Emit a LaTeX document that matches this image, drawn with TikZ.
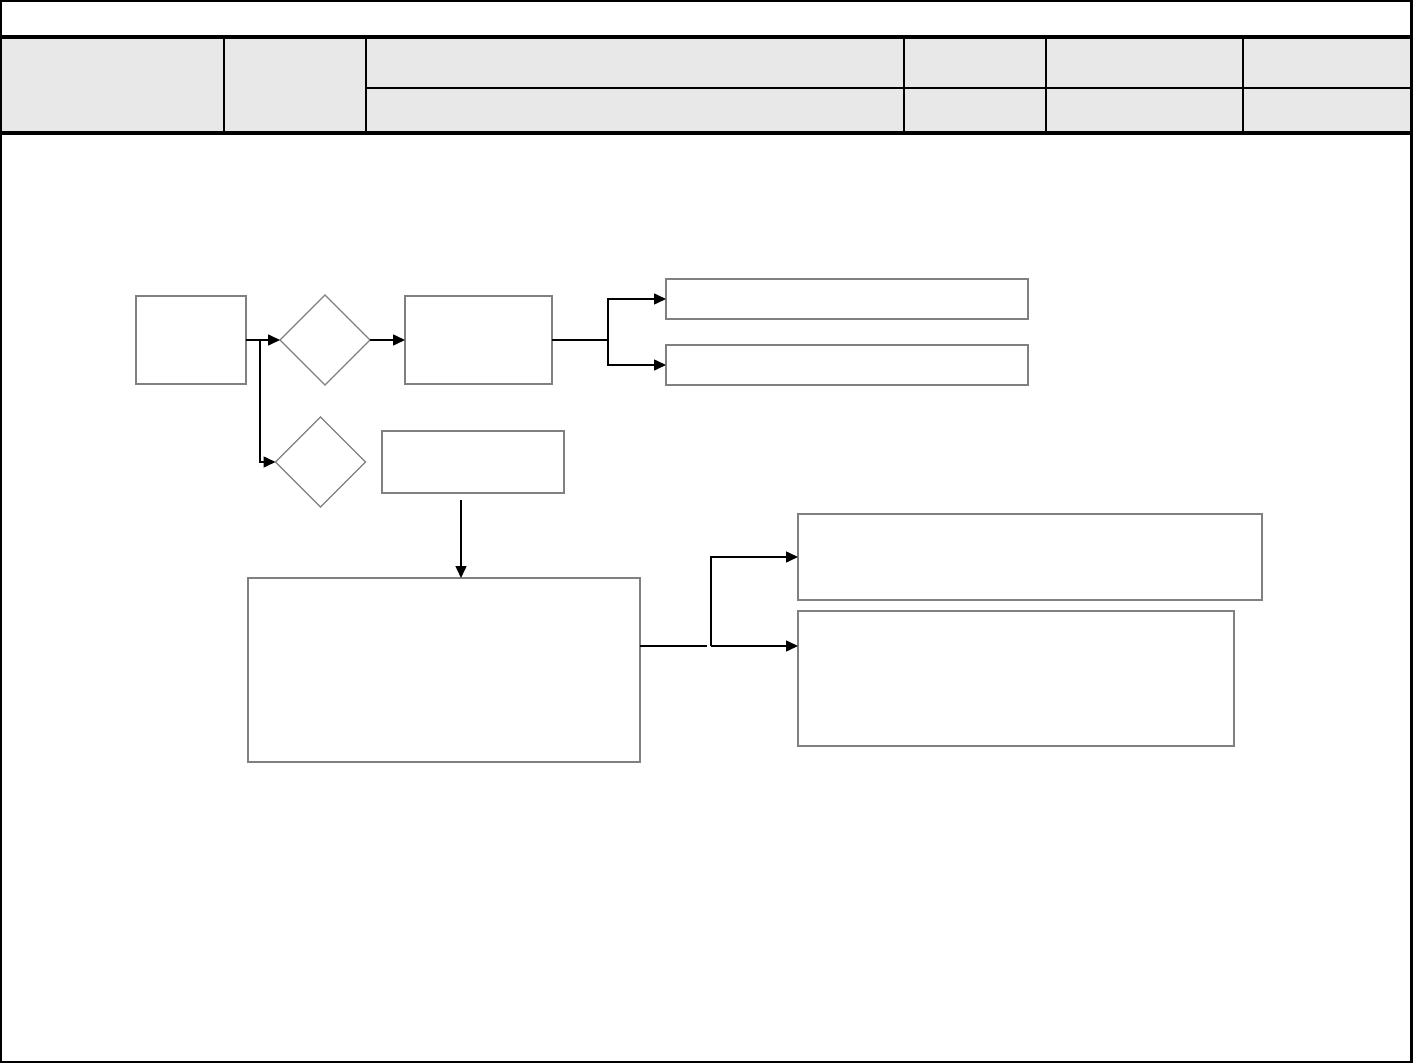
\documentclass[tikz,border=0pt]{standalone}
\usetikzlibrary{shapes.geometric,arrows.meta}
\definecolor{hdrgray}{HTML}{E8E8E8}
\definecolor{boxgray}{HTML}{808080}
\begin{document}
\begin{tikzpicture}[x=1pt,y=-1pt,
  box/.style={draw=boxgray,line width=1.6pt,rectangle,inner sep=0pt,outer sep=0pt},
  dia/.style={draw=boxgray,line width=1.4pt,diamond,inner sep=0pt,outer sep=0pt,minimum width=90pt,minimum height=90pt},
  conn/.style={draw=black,line width=1.5pt},
  arr/.style={conn,-{Triangle[length=12pt,width=11pt]}},
  frame/.style={draw=black,line width=2.5pt},
  thin/.style={draw=black,line width=2pt}]
\useasboundingbox (0,0) rectangle (1416,1064);
\fill[white] (0,0) rectangle (1416,1064);
% header
\fill[hdrgray] (1.5,37) rectangle (1410,132);
\draw[frame] (1.2,1.2) rectangle (1411.5,1062);
\draw[line width=3.5pt] (0,37) -- (1412,37);
\draw[line width=3.5pt] (0,133) -- (1412,133);
\draw[thin] (366,88) -- (1412,88);
\foreach \xx in {224,366,904,1046,1243} {\draw[thin] (\xx,37) -- (\xx,133);}
% nodes
\node[box,minimum width=110pt,minimum height=88pt] (A) at (191,340) {};
\node[dia] (D1) at (325,340) {};
\node[box,minimum width=147pt,minimum height=88pt] (B) at (478.5,340) {};
\node[box,minimum width=362pt,minimum height=40pt] (C1) at (847,299) {};
\node[box,minimum width=362pt,minimum height=40pt] (C2) at (847,365) {};
\node[dia] (D2) at (320.5,462) {};
\node[box,minimum width=182pt,minimum height=62pt] (E) at (473,462) {};
\node[box,minimum width=392pt,minimum height=184pt] (F) at (444,670) {};
\node[box,minimum width=464pt,minimum height=86pt] (G1) at (1030,557) {};
\node[box,minimum width=436pt,minimum height=135pt] (G2) at (1016,678.5) {};
% junction coordinates
\coordinate (j1) at (260,340);
\coordinate (j2) at (608,340);
\coordinate (eS) at (461,500);
\coordinate (fR) at (707,646);
\coordinate (j3) at (711,646);
% connectors
\draw[arr] (A.east) -- (D1.west);
\draw[arr] (j1) |- (D2.west);
\draw[arr] (D1.east) -- (B.west);
\draw[conn] (B.east) -- (j2);
\draw[arr] (j2) |- (C1.west);
\draw[arr] (j2) |- (C2.west);
\draw[arr] (eS) -- (eS |- F.north);
\draw[conn,line width=1.2pt] (F.east |- fR) -- (fR);
\draw[arr] (j3) |- (G1.west);
\draw[arr] (j3) -- (j3 -| G2.west);
\end{tikzpicture}
\end{document}
